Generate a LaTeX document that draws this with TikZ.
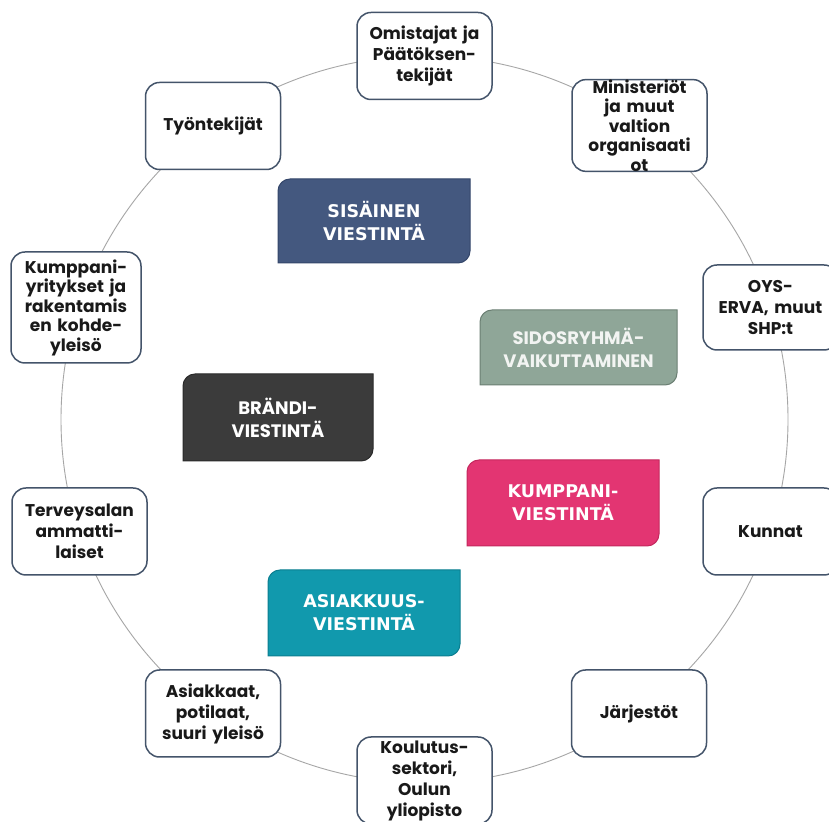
\documentclass[tikz,border=0pt]{standalone}
\usepackage{fontspec}
\setmainfont{Poppins}
\newfontfamily\verd{DejaVu Sans}
\definecolor{boxline}{HTML}{44546A}
\definecolor{ringgray}{HTML}{A6A6A6}
\definecolor{cSis}{HTML}{44587F}
\definecolor{cSisD}{HTML}{34466A}
\definecolor{cSid}{HTML}{8FA698}
\definecolor{cSidD}{HTML}{6B7F73}
\definecolor{cSidT}{HTML}{F2F4F2}
\definecolor{cBra}{HTML}{3B3B3B}
\definecolor{cBraD}{HTML}{2A2A2A}
\definecolor{cKum}{HTML}{E33572}
\definecolor{cKumD}{HTML}{C4285E}
\definecolor{cAsi}{HTML}{1199AD}
\definecolor{cAsiD}{HTML}{0B7E90}
\newcommand\innerbx[9]{%
  \path[fill=#6, draw=#7, line width=1pt]
    (#2,{821-#4-12}) arc[start angle=180,end angle=90,radius=12]
    -- (#3,{821-#4}) -- (#3,{821-#5+12})
    arc[start angle=0,end angle=-90,radius=12]
    -- (#2,{821-#5}) -- cycle;
  \node[innertext, #8] (#1) at ({(#2+#3)/2},{821-(#4+#5)/2}) {#9};
}
\begin{document}
\begin{tikzpicture}[x=1pt,y=1pt,
  outer/.style={draw=boxline, line width=1.5pt, fill=white, rounded corners=14pt,
    minimum width=135pt, minimum height=87pt, text width=130pt, align=center,
    inner sep=0pt, font=\bfseries\fontsize{17}{21}\selectfont, text=black!90},
  innertext/.style={text=white, align=center, inner sep=0pt},
  verdfont/.style={font=\verd\bfseries\fontsize{17.5}{23}\selectfont},
  popfont/.style={font=\bfseries\fontsize{18}{23}\selectfont}]
\useasboundingbox (0,0) rectangle (829,821);
\clip (0,0) rectangle (829,821);
\fill[white] (0,0) rectangle (829,821);
\draw[ringgray, line width=0.9pt] (424.5,401.5) circle[radius=363.5];

\node[outer] (own) at (424.5,765) {Omistajat ja\\Päätöksen-\\tekijät};
\node[outer, minimum height=85pt, font=\bfseries\fontsize{17}{19.5}\selectfont] (min) at (639.5,695.5) {Ministeriöt\\ja muut\\valtion\\organisaati\\ot};
\node[outer, minimum height=85pt] (oys) at (770.5,513.5) {OYS-\\ERVA, muut\\SHP:t};
\node[outer] (kun) at (770.5,289.5) {Kunnat};
\node[outer] (jar) at (639,107.5) {Järjestöt};
\node[outer] (kou) at (424.5,40.5) {Koulutus-\\sektori,\\Oulun\\yliopisto};
\node[outer] (asi) at (213,107.5) {Asiakkaat,\\potilaat,\\suuri yleisö};
\node[outer] (ter) at (79.5,289.5) {Terveysalan\\ammatti-\\laiset};
\node[outer, minimum width=128pt, minimum height=111pt, font=\bfseries\fontsize{17}{19.5}\selectfont] (kyr) at (76,513.5) {Kumppani-\\yritykset ja\\rakentamis\\en kohde-\\yleisö};
\node[outer] (tyo) at (213,695) {Työntekijät};

\innerbx{sis}{278}{470}{179}{263}{cSis}{cSisD}{verdfont}{SISÄINEN\\VIESTINTÄ}
\innerbx{sid}{480}{677}{310}{385}{cSid}{cSidD}{popfont, text=cSidT}{SIDOSRYHMÄ-\\VAIKUTTAMINEN}
\innerbx{bra}{183}{373}{374}{461}{cBra}{cBraD}{popfont}{BRÄNDI-\\VIESTINTÄ}
\innerbx{kum}{467}{659}{460}{546}{cKum}{cKumD}{verdfont}{KUMPPANI-\\VIESTINTÄ}
\innerbx{ask}{268}{460}{570}{656}{cAsi}{cAsiD}{verdfont}{ASIAKKUUS-\\VIESTINTÄ}
\end{tikzpicture}
\end{document}
